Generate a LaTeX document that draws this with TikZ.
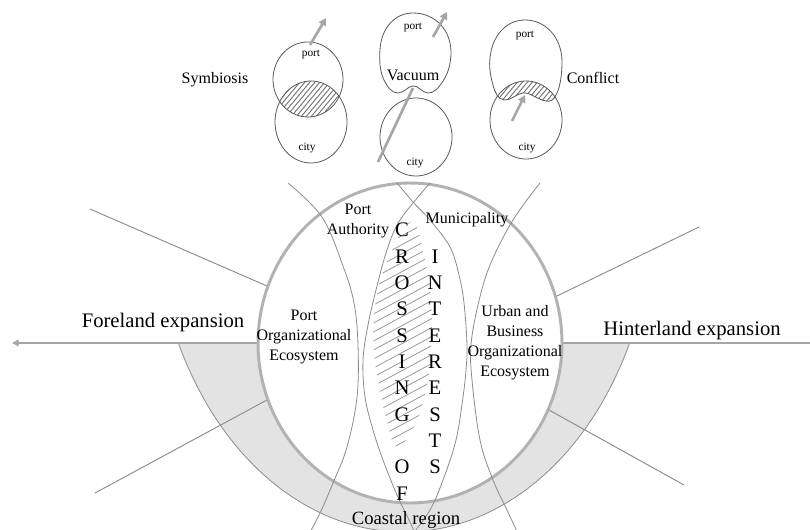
\documentclass[tikz,border=0pt]{standalone}
\usepackage{fontspec}
\setmainfont{Liberation Serif}
\usetikzlibrary{arrows.meta}
\begin{document}
\begin{tikzpicture}[x=0.75pt,y=-0.75pt,
  arcline/.style={draw=black!45, line width=0.6pt},
  rayline/.style={draw=black!45, line width=0.7pt},
  shapeline/.style={draw=black!65, line width=0.6pt},
  garrow/.style={draw=black!35, line width=2pt, -{Triangle[length=5.5pt,width=6pt]}},
  gline/.style={draw=black!35, line width=2pt},
  hatchline/.style={draw=black!55, line width=0.7pt},
  mhatch/.style={draw=black!40, line width=0.6pt},
  lbl/.style={font=\fontsize{12}{15}\selectfont, align=center, inner sep=0pt},
  tinylbl/.style={font=\fontsize{8.5}{10}\selectfont, inner sep=0pt},
  biglbl/.style={font=\fontsize{15.5}{18}\selectfont, inner sep=0pt},
]
\useasboundingbox (0,0) rectangle (810,530);
\clip (0,0) rectangle (810,530);
\fill[white] (0,0) rectangle (810,530);

% coastal band
\fill[black!11] plot[domain=25.5:154.5, samples=90] ({404+250*cos(\x)},{200+332*sin(\x)})
  -- (258,343) -- plot[domain=0:180, samples=90] ({410-152*cos(\x)},{343+160*sin(\x)}) -- cycle;
\draw[arcline] plot[domain=25.5:154.5, samples=90] ({404+250*cos(\x)},{200+332*sin(\x)});

% rays
\draw[rayline] (267,286) -- (90,209);
\draw[rayline] (267,400) -- (95,493);
\draw[rayline] (557,296) -- (699,227);
\draw[rayline] (549,410) -- (684,485);

% horizontal expansion lines
\draw[draw=black!35, line width=1.4pt, -{Triangle[length=5pt,width=5pt]}] (258,343) -- (12,343);
\draw[draw=black!35, line width=1.4pt] (562,343) -- (815,343);

% main circle
\draw[draw=black!30, line width=2.2pt] plot[domain=0:360, samples=140] ({410+152*cos(\x)},{343+160*sin(\x)}) -- cycle;

% four arcs
\draw[arcline] plot[smooth, tension=0.6] coordinates {(288,183) (322,217) (343,266) (354,303) (358,345) (357,397) (347,447) (333,483) (320,513) (308,536)};
\draw[arcline] plot[smooth, tension=0.6] coordinates {(397,183) (413,202) (430,220) (450,247) (459,275) (464,303) (467,345) (466,370) (463,397) (456,440) (443,480) (430,510) (411,536)};
\draw[arcline] plot[smooth, tension=0.6] coordinates {(430,183) (413,203) (397,225) (386,253) (376,290) (368,325) (363,360) (365,397) (373,430) (383,460) (397,495) (410,522) (416,536)};
\draw[arcline] plot[smooth, tension=0.6] coordinates {(540,183) (513,220) (490,265) (478,305) (471,345) (472,380) (480,440) (493,480) (507,510) (519,536)};

% hatched crossing lens
\begin{scope}
  \clip plot[smooth cycle, tension=0.7] coordinates {(412,222) (425,260) (431,300) (431,350) (426,390) (415,425) (397,447) (388,425) (380,390) (374,350) (376,300) (390,255)};
  \foreach \k in {0,...,36} \draw[mhatch] (340,{215+9*\k}) -- ++(130,-70);
\end{scope}

% labels of main figure
\node[lbl] (pa) at (358,221) {Port\\Authority};
\node[lbl] (mun) at (467,220) {Municipality};
\node[lbl] (poe) at (304,337) {Port\\Organizational\\Ecosystem};
\node[lbl] (uboe) at (515,343) {Urban and\\Business\\Organizational\\Ecosystem};
\node[biglbl] (fe) at (163,323) {Foreland expansion};
\node[biglbl] (he) at (692,331) {Hinterland expansion};
\node[font=\fontsize{14}{16}\selectfont, inner sep=0pt] (cr) at (406,520) {Coastal region};

\foreach \l [count=\i from 0] in {C,R,O,S,S,I,N,G}
  \node[biglbl, anchor=base] (cx\i) at (402,{237+26.3*\i}) {\l};
\node[biglbl, anchor=base] (cx9) at (402,{237+26.3*9}) {O};
\node[biglbl, anchor=base] (cx10) at (402,{237+26.3*10}) {F};
\foreach \l [count=\i from 1] in {I,N,T,E,R,E,S,T,S}
  \node[biglbl, anchor=base] (ix\i) at (435,{237+26.3*\i}) {\l};

% ---------- top: Symbiosis ----------
\begin{scope}
  \clip plot[domain=0:360, samples=80] ({308+35*cos(\x)},{79.5+37.5*sin(\x)}) -- cycle;
  \clip plot[domain=0:360, samples=80] ({311+36*cos(\x)},{122+41*sin(\x)}) -- cycle;
  \foreach \k in {0,...,24} \draw[hatchline] ({250+5*\k},130) -- ++(50,-60);
\end{scope}
\draw[shapeline] plot[domain=0:360, samples=80] ({308+35*cos(\x)},{79.5+37.5*sin(\x)}) -- cycle;
\draw[shapeline] plot[domain=0:360, samples=80] ({311+36*cos(\x)},{122+41*sin(\x)}) -- cycle;
\node[tinylbl] (sp) at (311,55) {port};
\node[tinylbl] (sc) at (307,148) {city};
\node[lbl] (sym) at (215,80) {Symbiosis};
\coordinate (sa1) at (310,45);
\coordinate (sa2) at (326,18);
\draw[garrow] (sa1) -- (sa2);

% ---------- top: Vacuum ----------
\draw[shapeline] (413,13) .. controls (435,13) and (452,30) .. (451,55)
  .. controls (450,68) and (447,76) .. (441,84)
  .. controls (437,90) and (433,93) .. (428,93)
  .. controls (422,93) and (418,85) .. (413,86)
  .. controls (408,86) and (404,93) .. (398,93)
  .. controls (392,93) and (388,88) .. (384,80)
  .. controls (380,72) and (379,60) .. (380,50)
  .. controls (381,28) and (395,13) .. (413,13) -- cycle;
\draw[shapeline] plot[domain=0:360, samples=80] ({416+36*cos(\x)},{137+39*sin(\x)}) -- cycle;
\node[tinylbl] (vp) at (413,28) {port};
\node[tinylbl] (vc) at (415,163) {city};
\node[lbl] (vac) at (413,75) {Vacuum};
\coordinate (va1) at (433,37);
\coordinate (va2) at (447,12);
\draw[garrow] (va1) -- (va2);
\coordinate (vl1) at (378,162);
\coordinate (vl2) at (413,88);
\draw[gline] (vl1) -- (vl2);

% ---------- top: Conflict ----------
\def\conflictport{(525,20) .. controls (546,20) and (562,38) .. (562,62)
  .. controls (562,75) and (560,88) .. (556,95)
  .. controls (554,100) and (550,102) .. (546,101)
  .. controls (538,100) and (530,92) .. (523,93)
  .. controls (516,94) and (510,101) .. (504,100)
  .. controls (498,99) and (495,93) .. (493,85)
  .. controls (490,75) and (489,65) .. (490,58)
  .. controls (492,36) and (506,20) .. (525,20) -- cycle}
\begin{scope}
  \clip \conflictport;
  \clip plot[domain=0:360, samples=80] ({526+36*cos(\x)},{120+39*sin(\x)}) -- cycle;
  \foreach \k in {0,...,24} \draw[hatchline] ({470+5*\k},115) -- ++(40,-48);
\end{scope}
\draw[shapeline] \conflictport;
\draw[shapeline] plot[domain=0:360, samples=80] ({526+36*cos(\x)},{120+39*sin(\x)}) -- cycle;
\node[tinylbl] (cp) at (525,36) {port};
\node[tinylbl] (cc) at (527,148) {city};
\node[lbl] (con) at (593,78) {Conflict};
\coordinate (ca1) at (512,121);
\coordinate (ca2) at (525,95);
\draw[garrow] (ca1) -- (ca2);
\end{tikzpicture}
\end{document}
